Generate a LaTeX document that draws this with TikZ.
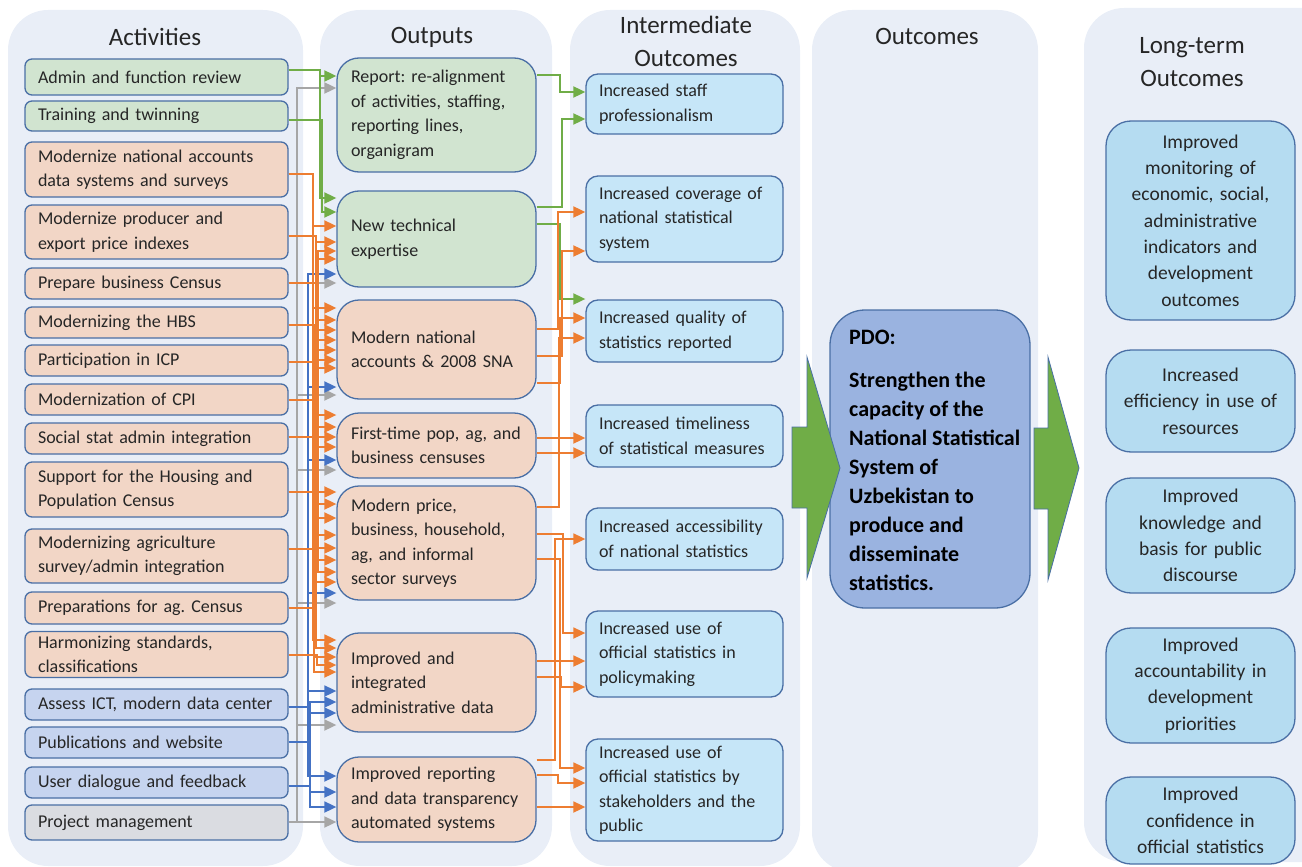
\documentclass[tikz,border=0pt]{standalone}
\usepackage{fontspec}
\setmainfont{Carlito}
\frenchspacing
\usetikzlibrary{arrows.meta}
\definecolor{colbg}{HTML}{E9EEF7}
\definecolor{bord}{HTML}{4A6FA5}
\definecolor{gfill}{HTML}{D1E4D0}
\definecolor{ofill}{HTML}{F2D6C6}
\definecolor{bfill}{HTML}{C6D4EF}
\definecolor{pfill}{HTML}{DADCE1}
\definecolor{ifill}{HTML}{C6E6F8}
\definecolor{lfill}{HTML}{B5DCF1}
\definecolor{pdofill}{HTML}{9AB3E0}
\definecolor{cgreen}{HTML}{70AD47}
\definecolor{corange}{HTML}{ED7D31}
\definecolor{cblue}{HTML}{4472C4}
\definecolor{cgray}{HTML}{A6A6A6}
\definecolor{txt}{HTML}{262626}
\tikzset{
 colbox/.style={fill=colbg, rounded corners=40pt, draw=none},
 hdr/.style={font=\fontsize{25}{33}\selectfont, text=txt, align=center, inner sep=0pt},
 actbox/.style={draw=bord, line width=1.3pt, rounded corners=7pt, minimum width=263pt, text width=237pt, inner xsep=13pt, inner ysep=1pt, align=left, font=\fontsize{18}{24.5}\selectfont, text=txt},
 outbox/.style={draw=bord, line width=1.3pt, rounded corners=22pt, minimum width=199pt, text width=171pt, inner xsep=14pt, inner ysep=1pt, align=left, font=\fontsize{18}{24.5}\selectfont, text=txt},
 iobox/.style={draw=bord, fill=ifill, line width=1.3pt, rounded corners=12pt, minimum width=197pt, text width=171pt, inner xsep=13pt, inner ysep=1pt, align=left, font=\fontsize{18}{24.5}\selectfont, text=txt},
 ltbox/.style={draw=bord, fill=lfill, line width=1.3pt, rounded corners=25pt, minimum width=189pt, text width=177pt, inner xsep=6pt, inner ysep=1pt, align=center, font=\fontsize{19.5}{26.3}\selectfont, text=txt},
 pdobox/.style={draw=bord, fill=pdofill, line width=1.3pt, rounded corners=35pt, minimum width=200pt, minimum height=298pt},
 bigarrow/.style={draw=bord, fill=cgreen, line width=0.8pt},
 lk/.style={line width=1.8pt, -{Triangle[length=12pt,width=11pt]}},
 cg/.style={lk, draw=cgreen},
 co/.style={lk, draw=corange},
 cb/.style={lk, draw=cblue},
 cy/.style={lk, draw=cgray},
}
% style, source node, source y, bus x, target node, target y
\newcommand\lnk[6]{\draw[#1] (#2.east |- 0,#3) -| (#4,#6) -- (#5.west |- 0,#6);}
\begin{document}
\begin{tikzpicture}[x=1pt,y=-1pt]
\useasboundingbox (0,0) rectangle (1302,867);
% column backgrounds
\fill[colbox] (8,10) rectangle (303,866);
\fill[colbox] (320,10) rectangle (552,866);
\fill[colbox] (570,10) rectangle (800,866);
\fill[colbox] (812,10) rectangle (1038,872);
\fill[colbox] (1084,8) rectangle (1345,862);
% headers
\node[hdr] (h1) at (155,37) {Activities};
\node[hdr] (h2) at (432,37) {Outputs};
\node[hdr] (h3) at (686,41.5) {Intermediate\\Outcomes};
\node[hdr] (h4) at (927,36) {Outcomes};
\node[hdr] (h5) at (1192,62) {Long-term\\Outcomes};
% activities
\node[actbox, fill=gfill, minimum height=36pt] (a1) at (156.5,77) {Admin and function review};
\node[actbox, fill=gfill, minimum height=30pt] (a2) at (156.5,116) {Training and twinning};
\node[actbox, fill=ofill, minimum height=55pt] (a3) at (156.5,169.5) {Modernize national accounts\\data systems and surveys};
\node[actbox, fill=ofill, minimum height=54pt] (a4) at (156.5,232) {Modernize producer and\\export price indexes};
\node[actbox, fill=ofill, minimum height=31pt] (a5) at (156.5,283.5) {Prepare business Census};
\node[actbox, fill=ofill, minimum height=31pt] (a6) at (156.5,322.5) {Modernizing the HBS};
\node[actbox, fill=ofill, minimum height=31pt] (a7) at (156.5,360.5) {Participation in ICP};
\node[actbox, fill=ofill, minimum height=31pt] (a8) at (156.5,399.5) {Modernization of CPI};
\node[actbox, fill=ofill, minimum height=31pt] (a9) at (156.5,438.5) {Social stat admin integration};
\node[actbox, fill=ofill, minimum height=55pt] (a10) at (156.5,489.5) {Support for the Housing and\\Population Census};
\node[actbox, fill=ofill, minimum height=54pt] (a11) at (156.5,556) {Modernizing agriculture\\survey/admin integration};
\node[actbox, fill=ofill, minimum height=32pt] (a12) at (156.5,608) {Preparations for ag. Census};
\node[actbox, fill=ofill, minimum height=46pt] (a13) at (156.5,654.5) {Harmonizing standards,\\classifications};
\node[actbox, fill=bfill, minimum height=31pt] (a14) at (156.5,704.5) {Assess ICT, modern data center};
\node[actbox, fill=bfill, minimum height=31pt] (a15) at (156.5,742.5) {Publications and website};
\node[actbox, fill=bfill, minimum height=31pt] (a16) at (156.5,782.5) {User dialogue and feedback};
\node[actbox, fill=pfill, minimum height=35pt] (a17) at (156.5,822.5) {Project management};
% outputs
\node[outbox, fill=gfill, minimum height=114pt] (o1) at (436.5,115) {Report: re-alignment\\of activities, staffing,\\reporting lines,\\organigram};
\node[outbox, fill=gfill, minimum height=96pt] (o2) at (436.5,239) {New technical\\expertise};
\node[outbox, fill=ofill, minimum height=99pt] (o3) at (436.5,349.5) {Modern national\\accounts \& 2008 SNA};
\node[outbox, fill=ofill, minimum height=65pt] (o4) at (436.5,445.5) {First-time pop, ag, and\\business censuses};
\node[outbox, fill=ofill, minimum height=114pt] (o5) at (436.5,543) {Modern price,\\business, household,\\ag, and informal\\sector surveys};
\node[outbox, fill=ofill, minimum height=99pt] (o6) at (436.5,682.5) {Improved and\\integrated\\administrative data};
\node[outbox, fill=ofill, minimum height=85pt] (o7) at (436.5,799.5) {Improved reporting\\and data transparency\\automated systems};
% intermediate outcomes
\node[iobox, minimum height=60pt] (i1) at (684.5,104) {Increased staff\\professionalism};
\node[iobox, minimum height=86pt] (i2) at (684.5,219) {Increased coverage of\\national statistical\\system};
\node[iobox, minimum height=62pt] (i3) at (684.5,331) {Increased quality of\\statistics reported};
\node[iobox, minimum height=62pt] (i4) at (684.5,436) {Increased timeliness\\of statistical measures};
\node[iobox, minimum height=62pt] (i5) at (684.5,539) {Increased accessibility\\of national statistics};
\node[iobox, minimum height=86pt] (i6) at (684.5,654) {Increased use of\\official statistics in\\policymaking};
\node[iobox, minimum height=102pt] (i7) at (684.5,790) {Increased use of\\official statistics by\\stakeholders and the\\public};
% PDO
\node[pdobox] (pdo) at (930,459) {};
\node[font=\bfseries\fontsize{22}{29}\selectfont, text=black, anchor=north west, align=left, inner sep=0pt] (pdot) at (849,330) {PDO:\\[14pt]Strengthen the\\capacity of the\\National Statistical\\System of\\Uzbekistan to\\produce and\\disseminate\\statistics.};
% big arrows
\draw[bigarrow] (792,427) -- (807,427) -- (807,357) -- (840,468) -- (807,578) -- (807,508) -- (792,508) -- cycle;
\draw[bigarrow] (1034,428) -- (1048,428) -- (1048,357) -- (1079,468) -- (1048,580) -- (1048,509) -- (1034,509) -- cycle;
% long-term outcomes
\node[ltbox, minimum height=199pt] (l1) at (1200.5,220.5) {Improved\\monitoring of\\economic, social,\\administrative\\indicators and\\development\\outcomes};
\node[ltbox, minimum height=102pt] (l2) at (1200.5,401) {Increased\\efficiency in use of\\resources};
\node[ltbox, minimum height=115pt] (l3) at (1200.5,535.5) {Improved\\knowledge and\\basis for public\\discourse};
\node[ltbox, minimum height=115pt] (l4) at (1200.5,685.5) {Improved\\accountability in\\development\\priorities};
\node[ltbox, minimum height=87pt] (l5) at (1200.5,820.5) {Improved\\confidence in\\official statistics};
% ---- left connectors: gray
\lnk{cy}{a17}{822}{297}{o1}{88}
\lnk{cy}{a17}{822}{297}{o2}{283}
\lnk{cy}{a17}{822}{297}{o3}{395}
\lnk{cy}{a17}{822}{297}{o4}{470}
\lnk{cy}{a17}{822}{297}{o5}{603}
\lnk{cy}{a17}{822}{297}{o6}{725}
\lnk{cy}{a17}{822}{297}{o7}{822}
% blue
\lnk{cb}{a14}{707}{308}{o2}{274}
\lnk{cb}{a14}{707}{308}{o3}{387}
\lnk{cb}{a14}{707}{308}{o4}{460}
\lnk{cb}{a14}{707}{308}{o5}{593}
\lnk{cb}{a14}{707}{308}{o6}{691}
\lnk{cb}{a15}{742}{310}{o6}{702}
\lnk{cb}{a16}{786}{310}{o6}{713}
\lnk{cb}{a14}{707}{308}{o7}{776}
\lnk{cb}{a15}{742}{310}{o7}{792}
\lnk{cb}{a16}{786}{310}{o7}{807}
% orange
\lnk{co}{a3}{174}{313}{o2}{226}
\lnk{co}{a4}{236}{316}{o2}{242}
\lnk{co}{a5}{283}{318}{o2}{251}
\lnk{co}{a10}{492}{318}{o2}{259}
\lnk{co}{a3}{174}{313}{o3}{308}
\lnk{co}{a4}{236}{316}{o3}{320}
\lnk{co}{a5}{283}{318}{o3}{330}
\lnk{co}{a6}{325}{314}{o3}{340}
\lnk{co}{a7}{362}{317}{o3}{350}
\lnk{co}{a8}{400}{315}{o3}{360}
\lnk{co}{a9}{437}{313}{o3}{368}
\lnk{co}{a5}{283}{318}{o4}{415}
\lnk{co}{a10}{492}{318}{o4}{427}
\lnk{co}{a11}{549}{316}{o4}{437}
\lnk{co}{a12}{608}{314}{o4}{447}
\lnk{co}{a3}{174}{313}{o5}{492}
\lnk{co}{a4}{236}{316}{o5}{504}
\lnk{co}{a6}{325}{314}{o5}{518}
\lnk{co}{a7}{362}{317}{o5}{535}
\lnk{co}{a8}{400}{315}{o5}{548}
\lnk{co}{a9}{437}{313}{o5}{560}
\lnk{co}{a10}{492}{318}{o5}{572}
\lnk{co}{a11}{549}{316}{o5}{582}
\lnk{co}{a9}{437}{313}{o6}{640}
\lnk{co}{a11}{549}{316}{o6}{648}
\lnk{co}{a12}{608}{314}{o6}{657}
\lnk{co}{a13}{655}{317}{o6}{665}
\lnk{co}{a6}{325}{314}{o6}{672}
% green
\lnk{cg}{a1}{70}{320}{o1}{76}
\lnk{cg}{a1}{70}{320}{o2}{198}
\lnk{cg}{a2}{120}{322}{o2}{212}
% ---- right connectors
\lnk{cg}{o1}{75}{560}{i1}{92}
\lnk{cg}{o2}{207}{562}{i1}{119}
\lnk{cg}{o2}{224}{560}{i3}{299}
\lnk{co}{o3}{329}{558}{i2}{212}
\lnk{co}{o3}{356}{562}{i2}{251}
\lnk{co}{o3}{383}{560}{i3}{318}
\lnk{co}{o5}{507}{559}{i3}{338}
\lnk{co}{o4}{438}{560}{i4}{438}
\lnk{co}{o4}{453}{560}{i4}{453}
\lnk{co}{o7}{760}{555}{i5}{539}
\lnk{co}{o5}{534}{563}{i6}{633}
\lnk{co}{o6}{661}{560}{i6}{661}
\lnk{co}{o6}{677}{561}{i6}{687}
\lnk{co}{o5}{559}{560}{i7}{768}
\lnk{co}{o7}{775}{558}{i7}{783}
\lnk{co}{o7}{807}{560}{i7}{807}
\end{tikzpicture}
\end{document}
